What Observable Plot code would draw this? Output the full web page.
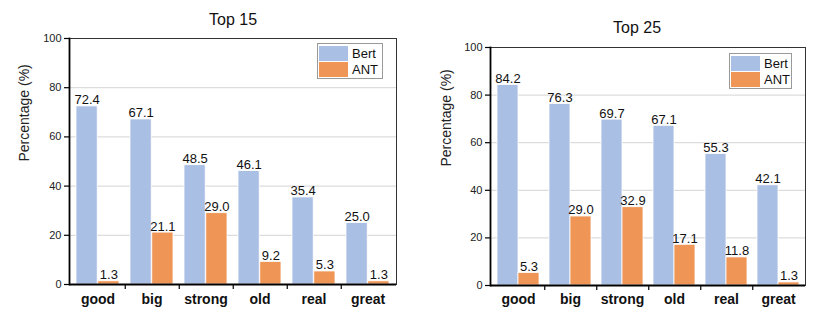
<!DOCTYPE html>
<html>
<head>
<meta charset="utf-8">
<script src="https://cdn.jsdelivr.net/npm/d3@7"></script>
<script src="https://cdn.jsdelivr.net/npm/@observablehq/plot@0.6"></script>
<style>
  html, body { margin: 0; padding: 0; background: #fff; }
  #wrap { position: relative; width: 831px; height: 315px; overflow: hidden; font-family: "Liberation Sans", Arial, sans-serif; }
  .panel { position: absolute; top: 0; }
  .legend { position: absolute; border: 1px solid #9a9a9a; background: #fff; padding: 1px; font-size: 13px; color: #111; }
  .legend .row { display: flex; align-items: center; height: 16px; }
  .legend .sw { width: 29px; height: 15px; margin-right: 4px; }
</style>
</head>
<body>
<div id="wrap"></div>
<script>
const categories = ["good", "big", "strong", "old", "real", "great"];
const seriesNames = ["Bert", "ANT"];
const bertTop15 = [72.4, 67.1, 48.5, 46.1, 35.4, 25.0];
const antTop15  = [1.3, 21.1, 29.0, 9.2, 5.3, 1.3];
const bertTop25 = [84.2, 76.3, 69.7, 67.1, 55.3, 42.1];
const antTop25  = [5.3, 29.0, 32.9, 17.1, 11.8, 1.3];
const yTicks = [0, 20, 40, 60, 80, 100];
const gridTicks = [20, 40, 60, 80];
const colors = ["#aabfe4", "#ef9656"];
const yLabel = "Percentage (%)";

const wrap = document.getElementById("wrap");

function makePanel({title, bert, ant, left, width, ml, mr, mt, mb, titleDy, titleDx, ylabDx, tickPad, legend}) {
  const rows = categories.map((c, i) => ({cat: c, Bert: bert[i], ANT: ant[i]}));
  const inner = width - ml - mr;
  const step = inner / categories.length;
  const bw = step * 0.8;
  const font = "Liberation Sans, Arial, sans-serif";
  const chart = Plot.plot({
    width, height: 315,
    marginLeft: ml, marginRight: mr, marginTop: mt, marginBottom: mb,
    style: {fontFamily: font, background: "white", color: "#222", overflow: "visible"},
    x: {domain: categories, paddingInner: 0.2, paddingOuter: 0.1, axis: null},
    y: {domain: [0, 100], axis: null},
    marks: [
      Plot.gridY(gridTicks, {stroke: "#d4d4d4", strokeOpacity: 1, strokeWidth: 1}),
      Plot.barY(rows, {x: "cat", y: "Bert", fill: colors[0], insetRight: bw / 2, stroke: "white", strokeWidth: 0.8}),
      Plot.barY(rows, {x: "cat", y: "ANT", fill: colors[1], insetLeft: bw / 2, stroke: "white", strokeWidth: 0.8}),
      Plot.text(rows, {x: "cat", y: "Bert", text: d => d.Bert.toFixed(1), dx: -bw / 4, dy: -2, lineAnchor: "bottom", fontSize: 13, fill: "#111"}),
      Plot.text(rows, {x: "cat", y: "ANT", text: d => d.ANT.toFixed(1), dx: bw / 4, dy: -2, lineAnchor: "bottom", fontSize: 13, fill: "#111"}),
      Plot.frame({stroke: "#333", strokeWidth: 1}),
      Plot.frame({anchor: "left", stroke: "#000", strokeWidth: 1.8}),
      Plot.ruleY([0], {stroke: "#000", strokeWidth: 1.8}),
      Plot.ruleX(categories.slice(0, -1), {y1: 0, y2: 0, insetBottom: -5, dx: step / 2, stroke: "#000", strokeWidth: 1.2}),
      Plot.axisY(yTicks, {tickSize: 5, tickPadding: 3, fontSize: 11, stroke: "#000", strokeWidth: 1.2, fill: "#222", label: null}),
      Plot.axisX({tickSize: 0, tickPadding: tickPad, fontSize: 14, fontWeight: "bold", fill: "#111", label: null}),
      Plot.text([yLabel], {frameAnchor: "left", rotate: -90, dx: ylabDx, fontSize: 14, fill: "#222"}),
      Plot.text([title], {frameAnchor: "top", dy: titleDy, dx: titleDx, fontSize: 16, fill: "#111"})
    ]
  });
  const div = document.createElement("div");
  div.className = "panel";
  div.style.left = left + "px";
  div.appendChild(chart);
  wrap.appendChild(div);

  const lg = document.createElement("div");
  lg.className = "legend";
  lg.style.left = legend.x + "px";
  lg.style.top = legend.y + "px";
  lg.style.width = legend.w + "px";
  seriesNames.forEach((name, i) => {
    const r = document.createElement("div");
    r.className = "row";
    const sw = document.createElement("div");
    sw.className = "sw";
    sw.style.background = colors[i];
    const t = document.createElement("span");
    t.textContent = name;
    r.appendChild(sw); r.appendChild(t);
    lg.appendChild(r);
  });
  wrap.appendChild(lg);
}

makePanel({title: "Top 15", bert: bertTop15, ant: antTop15, left: 0, width: 415,
  ml: 69, mr: 19, mt: 38, mb: 31, titleDy: -25, titleDx: 0, ylabDx: -45, tickPad: 10,
  legend: {x: 317, y: 43, w: 62}});
makePanel({title: "Top 25", bert: bertTop25, ant: antTop25, left: 415, width: 416,
  ml: 75, mr: 26, mt: 47, mb: 30, titleDy: -26, titleDx: -11, ylabDx: -44, tickPad: 9,
  legend: {x: 729, y: 53, w: 59}});
</script>
</body>
</html>
